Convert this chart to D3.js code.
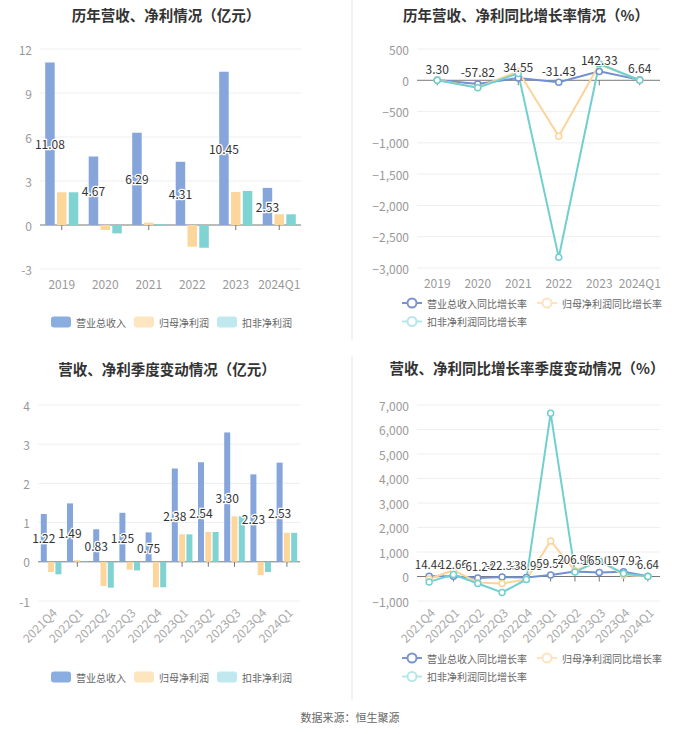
<!DOCTYPE html>
<html><head><meta charset="utf-8">
<script src="https://cdn.jsdelivr.net/npm/d3@7"></script>
<style>body{margin:0;background:#fff}svg{display:block;font-family:"Noto Sans CJK SC","Noto Sans",sans-serif}</style>
</head><body><svg width="700" height="734"></svg>
<script>
// ---------- data ----------
const years = ['2019','2020','2021','2022','2023','2024Q1'];
const revenue = [11.08,4.67,6.29,4.31,10.45,2.53];
const netProfit = [2.23,-0.34,0.16,-1.48,2.25,0.73];
const deductedProfit = [2.23,-0.57,0.07,-1.55,2.32,0.73];
const revenueYoy = [3.30,-57.82,34.55,-31.43,142.33,6.64];
const netProfitYoy = [3,-115,145,-895,252,2];
const deductedYoy = [2,-118,110,-2830,265,1];

const quarters = ['2021Q4','2022Q1','2022Q2','2022Q3','2022Q4','2023Q1','2023Q2','2023Q3','2023Q4','2024Q1'];
const qRevenue = [1.22,1.49,0.83,1.25,0.75,2.38,2.54,3.30,2.23,2.53];
const qNetProfit = [-0.26,0.04,-0.62,-0.20,-0.65,0.70,0.76,1.16,-0.34,0.74];
const qDeducted = [-0.32,0.01,-0.66,-0.22,-0.65,0.70,0.76,1.16,-0.26,0.74];
const qRevenueYoy = [14.44,12.66,-61.24,-22.33,-38.99,59.57,206.98,165.01,197.92,6.64];
const qNetYoy = [-100,257,-250,-290,-122,1453,230,650,60,4];
const qDeductedYoy = [-220,80,-287,-653,-122,6667,188,637,122,3];

const barNames = ['营业总收入','归母净利润','扣非净利润'];
const lineNames = ['营业总收入同比增长率','归母净利润同比增长率','扣非净利润同比增长率'];
const barColors = ['#86a6db','#fdd69b','#7fd3d3'];
const barLegendColors = ['#8aaee0','#fde5c0','#bfe9ee'];
const lineColors = ['#7090cf','#fcd49a','#72cfd0'];
const lineLegendColors = ['#7b93cf','#fde3c0','#b6e6ea'];

const svg = d3.select('svg');
const fmt = d3.format(',');

// dividers
svg.append('line').attr('x1',352).attr('x2',352).attr('y1',0).attr('y2',340).attr('stroke','#f2f2f2').attr('stroke-width',2);
svg.append('line').attr('x1',352).attr('x2',352).attr('y1',356).attr('y2',700).attr('stroke','#f2f2f2').attr('stroke-width',2);

function title(t, x, y){
  svg.append('text').attr('x',x).attr('y',y).attr('text-anchor','middle').attr('dominant-baseline','central')
    .attr('font-size',14.5).attr('font-weight','bold').attr('fill','#333').text(t);
}

function axesCommon(g, cats, x, y, ticks, x0, x1, yTop, yBot, rotate, tickFmt){
  ticks.forEach(t=>{
    if(t!==0) g.append('line').attr('x1',x0).attr('x2',x1).attr('y1',y(t)).attr('y2',y(t)).attr('stroke','#eeeeee');
    g.append('text').attr('x',x0-8).attr('y',y(t)).attr('text-anchor','end').attr('dominant-baseline','central')
      .attr('font-size',12).attr('fill','#999').text(tickFmt(t));
  });
  g.append('line').attr('x1',x0).attr('x2',x1).attr('y1',y(0)).attr('y2',y(0)).attr('stroke','#777');
  cats.forEach(c=>{
    const cx = x(c);
    g.append('line').attr('x1',cx).attr('x2',cx).attr('y1',y(0)).attr('y2',y(0)+5).attr('stroke','#777');
    if(rotate){
      g.append('text').attr('transform',`translate(${cx+3},${yBot+9}) rotate(-45)`).attr('text-anchor','end')
        .attr('dominant-baseline','central').attr('font-size',12).attr('fill','#aaa').text(c);
    } else {
      g.append('text').attr('x',cx).attr('y',yBot+14).attr('text-anchor','middle').attr('dominant-baseline','central')
        .attr('font-size',12).attr('fill','#999').text(c);
    }
  });
}

function barChart(cfg){
  const g = svg.append('g');
  const xb = d3.scaleBand().domain(cfg.cats).range([cfg.x0,cfg.x1]);
  const y = d3.scaleLinear().domain(cfg.domain).range([cfg.yBot,cfg.yTop]);
  const xc = c => xb(c)+xb.bandwidth()/2;
  axesCommon(g, cfg.cats, xc, y, cfg.ticks, cfg.x0, cfg.x1, cfg.yTop, cfg.yBot, cfg.rotate, d=>d);
  const bw = cfg.bw, gap = cfg.gap, gw = 3*bw+2*gap;
  cfg.series.forEach((s,i)=>{
    g.selectAll(null).data(s).enter().append('rect')
      .attr('x',(d,j)=>xc(cfg.cats[j])-gw/2+i*(bw+gap))
      .attr('y',d=>Math.min(y(d),y(0))).attr('width',bw)
      .attr('height',d=>Math.abs(y(d)-y(0))).attr('fill',barColors[i]);
  });
  g.selectAll(null).data(cfg.series[0]).enter().append('text')
    .attr('x',(d,j)=>xc(cfg.cats[j])-gw/2+bw/2).attr('y',d=>(y(d)+y(0))/2)
    .attr('text-anchor','middle').attr('dominant-baseline','central').attr('font-size',12)
    .attr('fill','#333').attr('stroke','#fff').attr('stroke-width',2.5).attr('paint-order','stroke')
    .text(d=>d.toFixed(2));
  let lx = cfg.legendX;
  barNames.forEach((n,i)=>{
    g.append('rect').attr('x',lx).attr('y',cfg.legendY-5.5).attr('width',20).attr('height',11).attr('rx',3).attr('fill',barLegendColors[i]);
    g.append('text').attr('x',lx+25).attr('y',cfg.legendY).attr('dominant-baseline','central').attr('font-size',10).attr('fill','#666').text(n);
    lx += cfg.legendStep;
  });
}

function lineChart(cfg){
  const g = svg.append('g');
  const x = d3.scalePoint().domain(cfg.cats).range([cfg.x0,cfg.x1]).padding(0.5);
  const y = d3.scaleLinear().domain(cfg.domain).range([cfg.yBot,cfg.yTop]);
  axesCommon(g, cfg.cats, x, y, cfg.ticks, cfg.x0, cfg.x1, cfg.yTop, cfg.yBot, cfg.rotate, fmt);
  const line = d3.line().x((d,j)=>x(cfg.cats[j])).y(d=>y(d));
  cfg.series.forEach((s,i)=>{
    g.append('path').datum(s).attr('d',line).attr('fill','none').attr('stroke',lineColors[i]).attr('stroke-width',2);
  });
  cfg.series.forEach((s,i)=>{
    g.selectAll(null).data(s).enter().append('circle').attr('cx',(d,j)=>x(cfg.cats[j])).attr('cy',d=>y(d))
      .attr('r',3).attr('fill','#fff').attr('stroke',lineColors[i]).attr('stroke-width',1.5);
  });
  g.selectAll(null).data(cfg.series[0]).enter().append('text')
    .attr('x',(d,j)=>x(cfg.cats[j])).attr('y',d=>y(d)-12)
    .attr('text-anchor','middle').attr('dominant-baseline','central').attr('font-size',cfg.labelSize)
    .attr('fill','#333').attr('stroke','#fff').attr('stroke-width',2).attr('paint-order','stroke')
    .text(d=>d.toFixed(2));
  const pos = [[cfg.legendX,cfg.legendY],[cfg.legendX2,cfg.legendY],[cfg.legendX,cfg.legendY+18.5]];
  lineNames.forEach((n,i)=>{
    const [lx,ly] = pos[i];
    g.append('line').attr('x1',lx).attr('x2',lx+20).attr('y1',ly).attr('y2',ly).attr('stroke',lineLegendColors[i]).attr('stroke-width',2);
    g.append('circle').attr('cx',lx+10).attr('cy',ly).attr('r',4.5).attr('fill','#fff').attr('stroke',lineLegendColors[i]).attr('stroke-width',2);
    g.append('text').attr('x',lx+25).attr('y',ly).attr('dominant-baseline','central').attr('font-size',10).attr('fill','#666').text(n);
  });
}

// ---------- charts ----------
title('历年营收、净利情况（亿元）',166,14);
barChart({cats:years, series:[revenue,netProfit,deductedProfit], x0:40, x1:301, yTop:49, yBot:269,
  domain:[-3,12], ticks:[-3,0,3,6,9,12], bw:9.5, gap:2.3, rotate:false, legendX:51, legendY:322, legendStep:83});

title('历年营收、净利同比增长率情况（%）',526,14);
lineChart({cats:years, series:[revenueYoy,netProfitYoy,deductedYoy], x0:417, x1:660, yTop:49, yBot:268,
  domain:[-3000,500], ticks:[-3000,-2500,-2000,-1500,-1000,-500,0,500], rotate:false, labelSize:12,
  legendX:402, legendX2:537, legendY:303});

title('营收、净利季度变动情况（亿元）',167,368);
barChart({cats:quarters, series:[qRevenue,qNetProfit,qDeducted], x0:38, x1:300, yTop:405, yBot:601,
  domain:[-1,4], ticks:[-1,0,1,2,3,4], bw:6, gap:1.3, rotate:true, legendX:51, legendY:677, legendStep:83});

title('营收、净利同比增长率季度变动情况（%）',527,367);
lineChart({cats:quarters, series:[qRevenueYoy,qNetYoy,qDeductedYoy], x0:417, x1:660, yTop:405, yBot:601,
  domain:[-1000,7000], ticks:[-1000,0,1000,2000,3000,4000,5000,6000,7000], rotate:true, labelSize:11.5,
  legendX:402, legendX2:537, legendY:658});

svg.append('text').attr('x',350).attr('y',717).attr('text-anchor','middle').attr('dominant-baseline','central')
  .attr('font-size',11).attr('fill','#666').text('数据来源：恒生聚源');
</script></body></html>
